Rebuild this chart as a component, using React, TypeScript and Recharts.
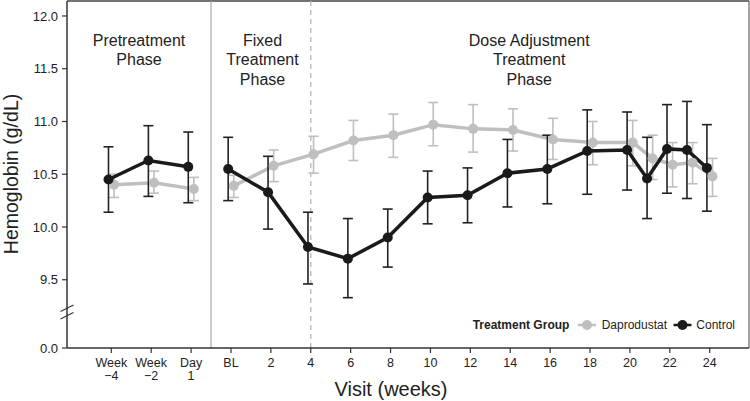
import React from 'react';
import { ComposedChart, Line, XAxis, YAxis, ErrorBar, ReferenceLine, ReferenceDot } from 'recharts';

// ---- Data ----
// Pretreatment visits (axis positions for Week -4, Week -2, Day 1)
const preVisitPos = [-6, -4, -2];
// Treatment visits (weeks; BL = 0)
const treatWeeks = [0, 2, 4, 6, 8, 10, 12, 14, 16, 18, 20, 21, 22, 23, 24];

const daproPreMean = [10.40, 10.42, 10.36];
const daproPreLow = [10.28, 10.32, 10.25];
const daproPreHigh = [10.50, 10.53, 10.47];

const controlPreMean = [10.45, 10.63, 10.57];
const controlPreLow = [10.14, 10.29, 10.23];
const controlPreHigh = [10.76, 10.96, 10.90];

const daproMean = [10.39, 10.58, 10.69, 10.82, 10.87, 10.97, 10.93, 10.92, 10.83, 10.80, 10.80, 10.65, 10.59, 10.61, 10.48];
const daproLow = [10.28, 10.43, 10.51, 10.63, 10.66, 10.77, 10.71, 10.72, 10.64, 10.59, 10.58, 10.45, 10.38, 10.41, 10.29];
const daproHigh = [10.49, 10.73, 10.86, 11.01, 11.07, 11.18, 11.16, 11.12, 11.03, 11.00, 11.01, 10.87, 10.80, 10.80, 10.65];

const controlMean = [10.55, 10.33, 9.81, 9.70, 9.90, 10.28, 10.30, 10.51, 10.55, 10.72, 10.73, 10.46, 10.74, 10.73, 10.56];
const controlLow = [10.25, 9.98, 9.46, 9.33, 9.62, 10.03, 10.04, 10.19, 10.22, 10.31, 10.35, 10.08, 10.32, 10.27, 10.15];
const controlHigh = [10.85, 10.67, 10.14, 10.08, 10.17, 10.53, 10.56, 10.83, 10.87, 11.11, 11.09, 10.85, 11.16, 11.19, 10.97];

// ---- Ticks ----
const xTicks = [-6, -4, -2, 0, 2, 4, 6, 8, 10, 12, 14, 16, 18, 20, 22, 24];
const xTickLine1 = ['Week', 'Week', 'Day', 'BL', '2', '4', '6', '8', '10', '12', '14', '16', '18', '20', '22', '24'];
const xTickLine2 = ['\u22124', '\u22122', '1', '', '', '', '', '', '', '', '', '', '', '', '', ''];
const yTicks = [8.853, 9.5, 10, 10.5, 11, 11.5, 12];
const yTickLabels = ['0.0', '9.5', '10.0', '10.5', '11.0', '11.5', '12.0'];

const X_DOMAIN: [number, number] = [-8.22, 25.97];
const Y_DOMAIN: [number, number] = [8.853, 12.142];
const BREAK_Y = 9.17;
const PHASE_SPLIT = -1;
const DOSE_ADJ_START = 4;

const DODGE = 0.14;
const GRAY = '#bfbfbf';
const BLACK = '#1a1a1a';

const build = (pos: number[], mean: number[], lo: number[], hi: number[], off: number) =>
  pos.map((p, i) => ({ x: p + off, y: mean[i], err: [mean[i] - lo[i], hi[i] - mean[i]] }));

const daproPre = build(preVisitPos, daproPreMean, daproPreLow, daproPreHigh, DODGE);
const controlPre = build(preVisitPos, controlPreMean, controlPreLow, controlPreHigh, -DODGE);
const daproTreat = build(treatWeeks, daproMean, daproLow, daproHigh, DODGE);
const controlTreat = build(treatWeeks, controlMean, controlLow, controlHigh, -DODGE);

const FONT = '"Liberation Sans", Arial, Helvetica, sans-serif';

const XTick = (props: any) => {
  const { x, y, payload } = props;
  const i = xTicks.indexOf(payload.value);
  return (
    <g>
      <text x={x} y={y + 12} textAnchor="middle" fontSize={12.5} fill="#222" fontFamily={FONT}>
        {xTickLine1[i]}
      </text>
      {xTickLine2[i] ? (
        <text x={x} y={y + 25.4} textAnchor="middle" fontSize={12.5} fill="#222" fontFamily={FONT}>
          {xTickLine2[i]}
        </text>
      ) : null}
    </g>
  );
};

const BreakMark = (props: any) => {
  const { cx, cy } = props;
  return (
    <g>
      <line x1={cx - 6.5} y1={cy - 3} x2={cx + 6.5} y2={cy - 9.5} stroke="#333" strokeWidth={1.2} />
      <line x1={cx - 6.5} y1={cy + 4.5} x2={cx + 6.5} y2={cy - 2} stroke="#333" strokeWidth={1.2} />
    </g>
  );
};

const dotStyle = (c: string) => ({ r: 5, fill: c, stroke: c, strokeWidth: 0 });

export default function App() {
  return (
    <div style={{ position: 'absolute', left: 0, top: 0, width: 750, height: 401, fontFamily: FONT, background: '#fff' }}>
      <ComposedChart width={750} height={401} margin={{ top: 1, right: 1, bottom: 0, left: 0 }}>
        <XAxis
          type="number"
          dataKey="x"
          domain={X_DOMAIN}
          ticks={xTicks}
          interval={0}
          allowDataOverflow
          height={53}
          tickSize={5}
          tick={<XTick />}
          axisLine={{ stroke: '#333', strokeWidth: 1.5 }}
          tickLine={{ stroke: '#333', strokeWidth: 1.2 }}
        />
        <YAxis
          type="number"
          domain={Y_DOMAIN}
          ticks={yTicks}
          interval={0}
          allowDataOverflow
          width={67}
          tickSize={5}
          tickMargin={4}
          tickFormatter={(v: number) => yTickLabels[yTicks.indexOf(v)] ?? ''}
          tick={{ fontSize: 13, fill: '#222', fontFamily: FONT }}
          axisLine={{ stroke: '#333', strokeWidth: 1.5 }}
          tickLine={{ stroke: '#333', strokeWidth: 1.2 }}
        />
        <ReferenceLine y={Y_DOMAIN[1]} stroke="#444" strokeWidth={1.5} />
        <ReferenceLine x={X_DOMAIN[1]} stroke="#666" strokeWidth={1.2} />
        <ReferenceLine x={PHASE_SPLIT} stroke="#a8a8a8" strokeWidth={1.2} />
        <ReferenceLine x={DOSE_ADJ_START} stroke="#c0c0c0" strokeWidth={1.5} strokeDasharray="5 4" />
        <ReferenceDot x={X_DOMAIN[0]} y={BREAK_Y} ifOverflow="visible" shape={<BreakMark />} />

        <Line data={daproPre} dataKey="y" stroke={GRAY} strokeWidth={3.5} dot={dotStyle(GRAY)} activeDot={false} isAnimationActive={false}>
          <ErrorBar dataKey="err" direction="y" width={5} stroke={GRAY} strokeWidth={1.6} />
        </Line>
        <Line data={daproTreat} dataKey="y" stroke={GRAY} strokeWidth={3.5} dot={dotStyle(GRAY)} activeDot={false} isAnimationActive={false}>
          <ErrorBar dataKey="err" direction="y" width={5} stroke={GRAY} strokeWidth={1.6} />
        </Line>
        <Line data={controlPre} dataKey="y" stroke={BLACK} strokeWidth={3.5} dot={dotStyle(BLACK)} activeDot={false} isAnimationActive={false}>
          <ErrorBar dataKey="err" direction="y" width={5} stroke="#222" strokeWidth={1.6} />
        </Line>
        <Line data={controlTreat} dataKey="y" stroke={BLACK} strokeWidth={3.5} dot={dotStyle(BLACK)} activeDot={false} isAnimationActive={false}>
          <ErrorBar dataKey="err" direction="y" width={5} stroke="#222" strokeWidth={1.6} />
        </Line>
      </ComposedChart>

      <svg width={750} height={401} style={{ position: 'absolute', left: 0, top: 0, pointerEvents: 'none' }} fontFamily={FONT}>
        <g fontSize={16} fill="#222" textAnchor="middle">
          <text x={139} y={45.7}>Pretreatment</text>
          <text x={139} y={65.4}>Phase</text>
          <text x={262.5} y={45.7}>Fixed</text>
          <text x={262.5} y={65.4}>Treatment</text>
          <text x={262.5} y={85.1}>Phase</text>
          <text x={529.2} y={45.7}>Dose Adjustment</text>
          <text x={529.2} y={65.4}>Treatment</text>
          <text x={529.2} y={85.1}>Phase</text>
        </g>
        <text x={17.5} y={174} transform="rotate(-90 17.5 174)" textAnchor="middle" fontSize={19.5} fill="#222">
          Hemoglobin (g/dL)
        </text>
        <text x={391} y={395.5} textAnchor="middle" fontSize={20} fill="#222">
          Visit (weeks)
        </text>
        <g fontSize={12} fill="#222">
          <text x={472.7} y={329.3} fontWeight="bold">Treatment Group</text>
          <line x1={578} y1={325} x2={596} y2={325} stroke={GRAY} strokeWidth={2.5} />
          <circle cx={587} cy={325} r={5} fill={GRAY} />
          <text x={601.7} y={329.3}>Daprodustat</text>
          <line x1={673.5} y1={325} x2={691.5} y2={325} stroke={BLACK} strokeWidth={2.5} />
          <circle cx={682.5} cy={325} r={5} fill={BLACK} />
          <text x={696.3} y={329.3}>Control</text>
        </g>
      </svg>
    </div>
  );
}
